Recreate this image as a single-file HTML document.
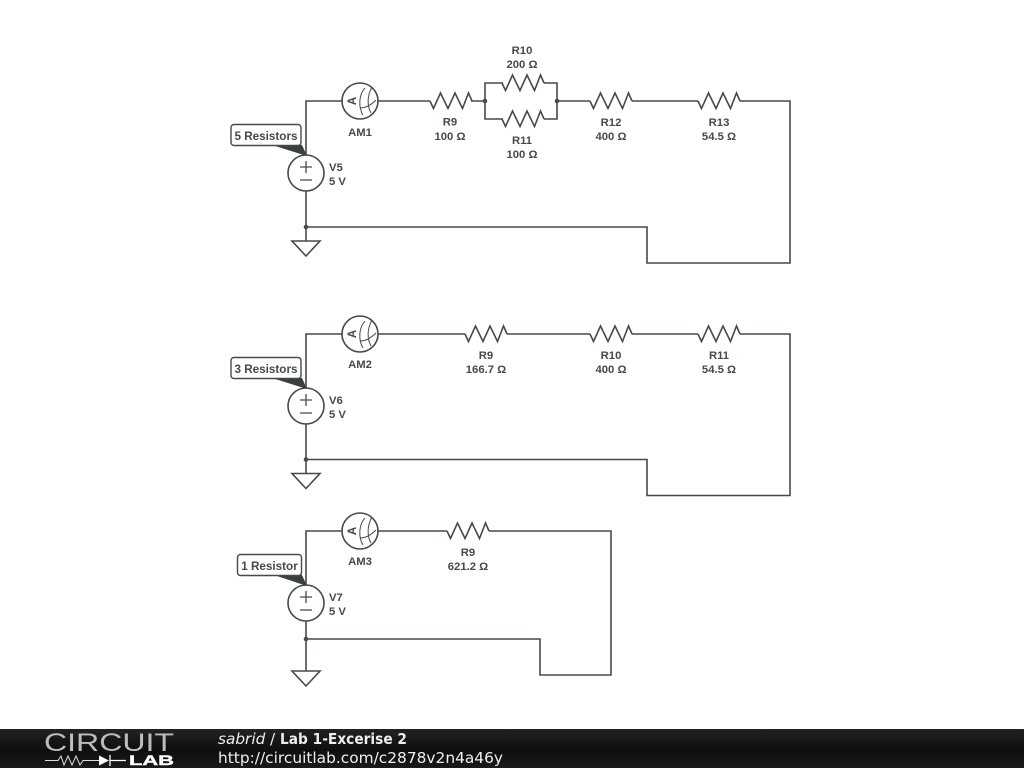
<!DOCTYPE html>
<html>
<head>
<meta charset="utf-8">
<style>
html,body{margin:0;padding:0;background:#fff;width:1024px;height:768px;overflow:hidden}
svg{display:block}
.w{fill:none;stroke:#454a4a;stroke-width:1.6}
.t{font-family:"Liberation Sans",sans-serif;font-size:11.3px;font-weight:bold;fill:#454a4a;text-anchor:middle}
.s{text-anchor:start}
.c{font-family:"Liberation Sans",sans-serif;font-size:11.7px;font-weight:bold;fill:#454a4a;text-anchor:middle}
.f{font-family:"DejaVu Sans",sans-serif;font-size:15.3px;fill:#eee}
.d{filter:blur(.25px)}
</style>
</head>
<body>
<svg width="1024" height="768" viewBox="0 0 1024 768" xmlns="http://www.w3.org/2000/svg">
<defs>
<linearGradient id="g" x1="0" y1="0" x2="0" y2="1"><stop offset="0" stop-color="#222"/><stop offset=".55" stop-color="#0e0e0e"/><stop offset="1" stop-color="#1a1a1a"/></linearGradient>
<g id="res"><path class="w" d="M0 0L3.500 7.500L10.500 -8L18 7.500L25 -8L32.500 7.500L38.500 -8L42 0"/></g>
<g id="am">
<circle class="w" r="18" fill="#fff"/>
<path class="w" style="stroke-width:1" d="M5 -13C-1 -7 -2 6 3 14M12 -14C7 -5 7 5 11 12M0 7C6 7 12 3 16 -1"/>
</g>
<g id="vs">
<circle class="w" r="18"/>
<path class="w" style="stroke-width:1.300" d="M-6 -6H6M0 -12V0M-6 7H6"/>
</g>
<path id="gnd" class="w" d="M-14 0H14L0 15Z"/>
</defs>

<g class="d">
<!-- Circuit 1 -->
<path class="w" d="M342 101H306V155M306 191V241M378 101H430M471 101H485M485 101V83H503M544 83H557V101M485 101V119H503M544 119H557V101M557 101H590M632 101H698M740 101H790V263H647V227H306"/>
<use href="#am" x="360" y="101"/>
<text class="t" style="font-size:11.5px" transform="translate(356 101) rotate(-90)" x="0" y="0">A</text>
<use href="#res" x="430" y="101"/>
<use href="#res" x="502" y="83"/>
<use href="#res" x="502" y="119"/>
<use href="#res" x="590" y="101"/>
<use href="#res" x="698" y="101"/>
<use href="#vs" x="306" y="173"/>
<use href="#gnd" x="306" y="241"/>
<circle cx="306" cy="227" r="2.300" fill="#454a4a"/>
<circle cx="485" cy="101" r="2.300" fill="#454a4a"/>
<circle cx="557" cy="101" r="2.300" fill="#454a4a"/>
<path d="M272 145H302L307 156Z" fill="#3a4040"/>
<rect x="231" y="124.500" width="70" height="21" rx="3" fill="#fff" stroke="#454a4a" stroke-width="1.400"/>
<text class="c" x="266" y="139.800">5 Resistors</text>
<text class="t" x="360" y="136">AM1</text>
<text class="t" x="450" y="125.500">R9</text><text class="t" x="450" y="140">100 Ω</text>
<text class="t" x="522" y="54">R10</text><text class="t" x="522" y="68">200 Ω</text>
<text class="t" x="522" y="144">R11</text><text class="t" x="522" y="158">100 Ω</text>
<text class="t" x="611" y="126">R12</text><text class="t" x="611" y="140">400 Ω</text>
<text class="t" x="719" y="126">R13</text><text class="t" x="719" y="140">54.5 Ω</text>
<text class="t s" x="329" y="171">V5</text><text class="t s" x="329" y="185">5 V</text>

<!-- Circuit 2 -->
<path class="w" d="M342 334H306V388M306 424V473.500M378 334H465M507 334H590M632 334H698M740 334H790V495.500H647V459.500H306"/>
<use href="#am" x="360" y="334"/>
<text class="t" style="font-size:11.5px" transform="translate(356 334) rotate(-90)" x="0" y="0">A</text>
<use href="#res" x="465" y="334"/>
<use href="#res" x="590" y="334"/>
<use href="#res" x="698" y="334"/>
<use href="#vs" x="306" y="406"/>
<use href="#gnd" x="306" y="473.500"/>
<circle cx="306" cy="459.500" r="2.300" fill="#454a4a"/>
<path d="M272 378H302L307 389Z" fill="#3a4040"/>
<rect x="231" y="357.500" width="70" height="21" rx="3" fill="#fff" stroke="#454a4a" stroke-width="1.400"/>
<text class="c" x="266" y="372.800">3 Resistors</text>
<text class="t" x="360" y="368">AM2</text>
<text class="t" x="486" y="359">R9</text><text class="t" x="486" y="373">166.7 Ω</text>
<text class="t" x="611" y="359">R10</text><text class="t" x="611" y="373">400 Ω</text>
<text class="t" x="719" y="359">R11</text><text class="t" x="719" y="373">54.5 Ω</text>
<text class="t s" x="329" y="404">V6</text><text class="t s" x="329" y="418">5 V</text>

<!-- Circuit 3 -->
<path class="w" d="M342 531H306V585M306 621V671M378 531H447M489 531H611V675H540V639H306"/>
<use href="#am" x="360" y="531"/>
<text class="t" style="font-size:11.5px" transform="translate(356 531) rotate(-90)" x="0" y="0">A</text>
<use href="#res" x="447" y="531"/>
<use href="#vs" x="306" y="603"/>
<use href="#gnd" x="306" y="671"/>
<circle cx="306" cy="639" r="2.300" fill="#454a4a"/>
<path d="M274 575H302L307 586Z" fill="#3a4040"/>
<rect x="237.500" y="554.500" width="64" height="21" rx="3" fill="#fff" stroke="#454a4a" stroke-width="1.400"/>
<text class="c" x="269.500" y="569.800">1 Resistor</text>
<text class="t" x="360" y="565">AM3</text>
<text class="t" x="468" y="556">R9</text><text class="t" x="468" y="570">621.2 Ω</text>
<text class="t s" x="329" y="601">V7</text><text class="t s" x="329" y="615">5 V</text>
</g>

<!-- Footer -->
<rect x="0" y="729" width="1024" height="39" fill="url(#g)"/>
<text x="44" y="751" font-family="'Liberation Sans',sans-serif" font-size="25" fill="#bdbdbd" textLength="130" lengthAdjust="spacingAndGlyphs">CIRCUIT</text>
<path d="M45 760.500H58L61 756L64 765L68 756L72 765L76 756L80 765L83 760.500H99" fill="none" stroke="#ddd" stroke-width="1"/>
<path d="M99 755.500V765.500L109 760.500Z" fill="#fff"/>
<path d="M110 755V766M110 760.500H126" fill="none" stroke="#fff" stroke-width="1.300"/>
<text x="129" y="765" font-family="'Liberation Sans',sans-serif" font-size="14" font-weight="bold" fill="#fff" stroke="#fff" stroke-width=".4" textLength="45" lengthAdjust="spacingAndGlyphs">LAB</text>
<text class="f" x="218" y="744" font-style="italic">sabrid</text>
<text class="f" x="270" y="744">/</text>
<text class="f" x="280" y="744" font-weight="bold" textLength="127" lengthAdjust="spacingAndGlyphs">Lab 1-Excerise 2</text>
<text class="f" x="218" y="763" textLength="285" lengthAdjust="spacingAndGlyphs">http://circuitlab.com/c2878v2n4a46y</text>
</svg>
</body>
</html>
